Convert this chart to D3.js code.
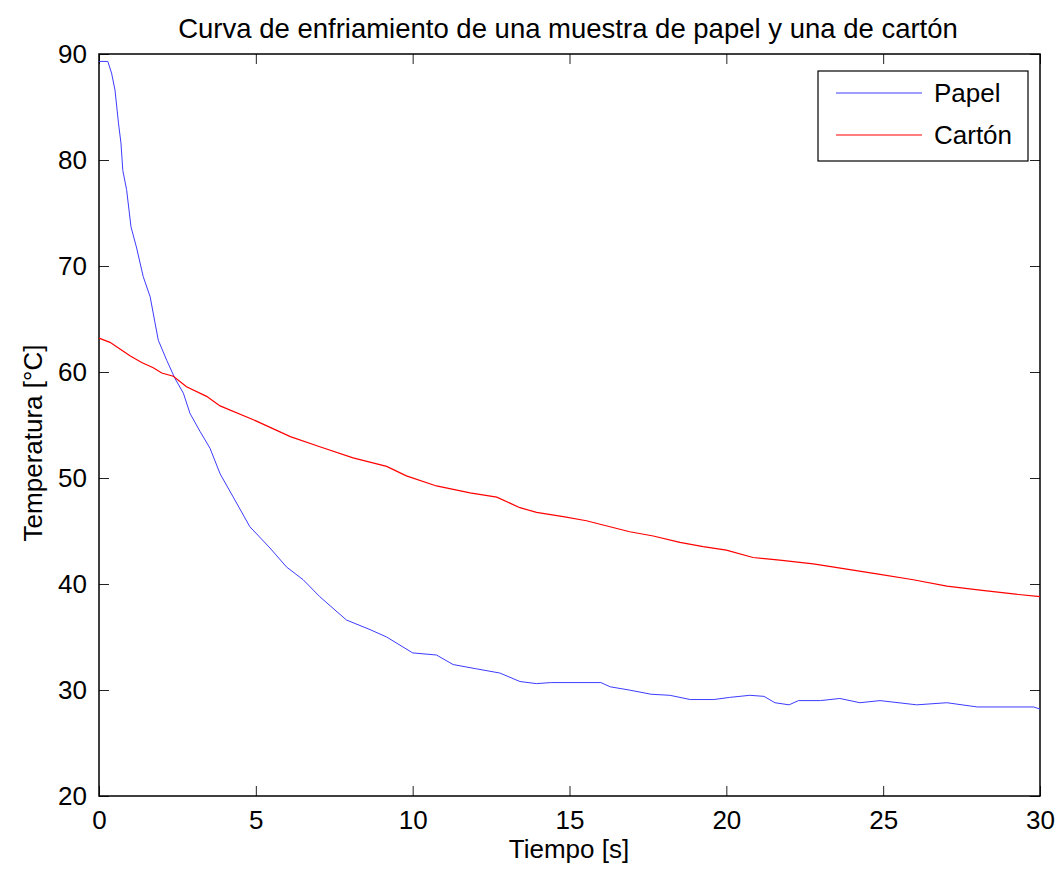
<!DOCTYPE html>
<html>
<head>
<meta charset="utf-8">
<script src="https://cdn.jsdelivr.net/npm/d3@7"></script>
<style>
body { margin:0; background:#fff; }
text { font-family: "Liberation Sans", Arial, sans-serif; fill:#000; }
</style>
</head>
<body>
<svg id="chart" width="1060" height="873"></svg>
<script>
// tiempo [s] y temperatura [°C]
papel_t = [0,0.28,0.4,0.51,0.62,0.7,0.76,0.88,1.02,1.2,1.41,1.63,1.89,2.16,2.42,2.69,2.9,3.22,3.54,3.86,4.28,4.81,5.45,5.98,6.51,7.04,7.89,8.64,9.17,10.0,10.76,11.29,12.03,12.78,13.42,13.95,14.4,16.0,16.3,16.9,17.6,18.2,18.85,19.6,20.1,20.75,21.2,21.55,22.0,22.3,23.0,23.62,24.26,24.9,26.07,27.03,28.0,29.8,30]
papel_v = [89.3,89.3,88.2,86.6,83.5,81.6,79.0,77.2,73.7,71.7,69.0,67.1,63.0,61.1,59.4,58.0,56.1,54.4,52.8,50.4,48.2,45.4,43.4,41.6,40.4,38.8,36.6,35.7,35.0,33.5,33.3,32.4,32.0,31.6,30.8,30.6,30.7,30.7,30.3,30.0,29.6,29.5,29.1,29.1,29.3,29.5,29.4,28.8,28.6,29.0,29.0,29.2,28.8,29.0,28.6,28.8,28.4,28.4,28.2]

carton_t = [0,0.35,1.0,1.36,1.73,2.0,2.37,2.79,3.43,3.86,4.92,6.1,7.04,8.1,9.17,9.8,10.76,11.83,12.68,13.42,13.95,14.8,15.54,16.07,16.92,17.67,18.52,19.26,20.0,20.85,21.7,22.77,23.84,24.9,25.96,27.03,28.09,29.15,30]
carton_v = [63.2,62.8,61.5,60.9,60.4,59.9,59.6,58.6,57.7,56.8,55.5,53.9,52.95,51.9,51.1,50.2,49.25,48.6,48.2,47.2,46.75,46.35,45.97,45.57,44.93,44.53,43.93,43.52,43.2,42.5,42.26,41.9,41.4,40.9,40.4,39.8,39.43,39.06,38.8]

x_ticks = [0,5,10,15,20,25,30]
y_ticks = [20,30,40,50,60,70,80,90]

series = [
    {name:"Papel", t:papel_t, v:papel_v, color:"#3c3cff", w:1},
    {name:"Cartón", t:carton_t, v:carton_v, color:"#ff0000", w:1.2}
]

svg = d3.select("#chart")
left = 99; right = 1040; top_ = 54; bottom = 796

x = d3.scaleLinear().domain([0,30]).range([left,right])
y = d3.scaleLinear().domain([20,90]).range([bottom,top_])

// ejes con ticks hacia adentro en los cuatro lados
g_axes = svg.append("g")
g_axes.append("g").attr("transform","translate(0,"+bottom+")")
    .call(d3.axisBottom(x).tickValues(x_ticks).tickSizeInner(-10).tickSizeOuter(0).tickPadding(15))
g_axes.append("g").attr("transform","translate(0,"+top_+")")
    .call(d3.axisTop(x).tickValues(x_ticks).tickSizeInner(-10).tickSizeOuter(0).tickFormat(""))
g_axes.append("g").attr("transform","translate("+left+",0)")
    .call(d3.axisLeft(y).tickValues(y_ticks).tickSizeInner(-10).tickSizeOuter(0).tickPadding(12))
g_axes.append("g").attr("transform","translate("+right+",0)")
    .call(d3.axisRight(y).tickValues(y_ticks).tickSizeInner(-10).tickSizeOuter(0).tickFormat(""))
g_axes.selectAll(".domain").remove()
g_axes.selectAll("line").attr("stroke","#222").attr("stroke-width",1)
g_axes.selectAll("text").style("font-size","26px").style("font-family","'Liberation Sans', Arial, sans-serif")

svg.append("rect").attr("x",left).attr("y",top_)
    .attr("width",right-left).attr("height",bottom-top_)
    .attr("fill","none").attr("stroke","#000").attr("stroke-width",1.5)

line = d3.line().x(d => x(d[0])).y(d => y(d[1]))

for(s of series)
{
    pts = s.t.map((t,i) => [t, s.v[i]])
    svg.append("path").datum(pts)
        .attr("d", line)
        .attr("fill","none")
        .attr("stroke", s.color)
        .attr("stroke-width", s.w)
}

// titulo y etiquetas
svg.append("text").attr("x",568).attr("y",38).attr("text-anchor","middle")
    .style("font-size","27.5px").text("Curva de enfriamiento de una muestra de papel y una de cartón")
svg.append("text").attr("x",569).attr("y",858).attr("text-anchor","middle")
    .style("font-size","26px").text("Tiempo [s]")
svg.append("text").attr("transform","translate(42,443) rotate(-90)").attr("text-anchor","middle")
    .style("font-size","26px").text("Temperatura [°C]")

// leyenda
g_leg = svg.append("g")
g_leg.append("rect").attr("x",818).attr("y",71).attr("width",210).attr("height",90)
    .attr("fill","#fff").attr("stroke","#000").attr("stroke-width",1.2)
series.forEach(function(s,i){
    ly = 93 + i*42
    g_leg.append("line").attr("x1",836).attr("x2",922).attr("y1",ly).attr("y2",ly)
        .attr("stroke",s.color).attr("stroke-width",s.w)
    g_leg.append("text").attr("x",934).attr("y",ly+9).style("font-size","26px").text(s.name)
})
</script>
</body>
</html>
